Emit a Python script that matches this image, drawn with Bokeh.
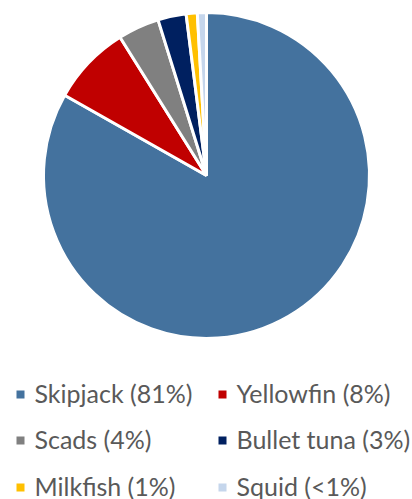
import math
from bokeh.plotting import figure
from bokeh.models import Range1d, ColumnDataSource
from bokeh.core.properties import value
from bokeh.embed import file_html
from bokeh.resources import INLINE

species = ["Skipjack", "Yellowfin", "Scads", "Bullet tuna", "Milkfish", "Squid"]
shares = [83.2, 7.9, 4.1, 2.8, 1.1, 0.9]
labels = ["Skipjack (81%)", "Yellowfin (8%)", "Scads (4%)", "Bullet tuna (3%)", "Milkfish (1%)", "Squid (<1%)"]
colors = ["#44729e", "#c00000", "#808080", "#002060", "#ffc000", "#c5d6ec"]

W, H = 412, 499
p = figure(width=W, height=H, output_backend="svg", toolbar_location=None,
           x_range=Range1d(0, W), y_range=Range1d(0, H), min_border=0)
p.axis.visible = False
p.grid.visible = False
p.outline_line_color = None

total = sum(shares)
starts, ends = [], []
cum = 0.0
for s in shares:
    starts.append(math.pi / 2 - cum / total * 2 * math.pi)
    cum += s
    ends.append(math.pi / 2 - cum / total * 2 * math.pi)

# screen coords (top-left origin) -> data y = H - screen_y
src = ColumnDataSource(dict(start=starts, end=ends, color=colors))
p.wedge(x=206, y=H - 175, radius=163, start_angle="start", end_angle="end",
        direction="clock", fill_color="color", line_color="white", line_width=3, source=src)

# legend: 2 columns x 3 rows
col_x = [20, 222]
row_y = [H - 392, H - 438, H - 485]
mx, my, tx, ty = [], [], [], []
for i in range(len(labels)):
    c = i % 2
    r = i // 2
    mx.append(col_x[c])
    my.append(row_y[r] - 2)
    tx.append(col_x[c] + 14)
    ty.append(row_y[r])
leg = ColumnDataSource(dict(mx=mx, my=my, tx=tx, ty=ty, text=labels, color=colors))
p.scatter(x="mx", y="my", marker="square", size=8, fill_color="color", line_color=None, source=leg)
p.text(x="tx", y="ty", text="text", source=leg, text_font=value("Lato"), text_font_size="25px",
       text_color="#595959", text_baseline="middle", text_align="left")

open("out.html", "w").write(file_html(p, INLINE))
